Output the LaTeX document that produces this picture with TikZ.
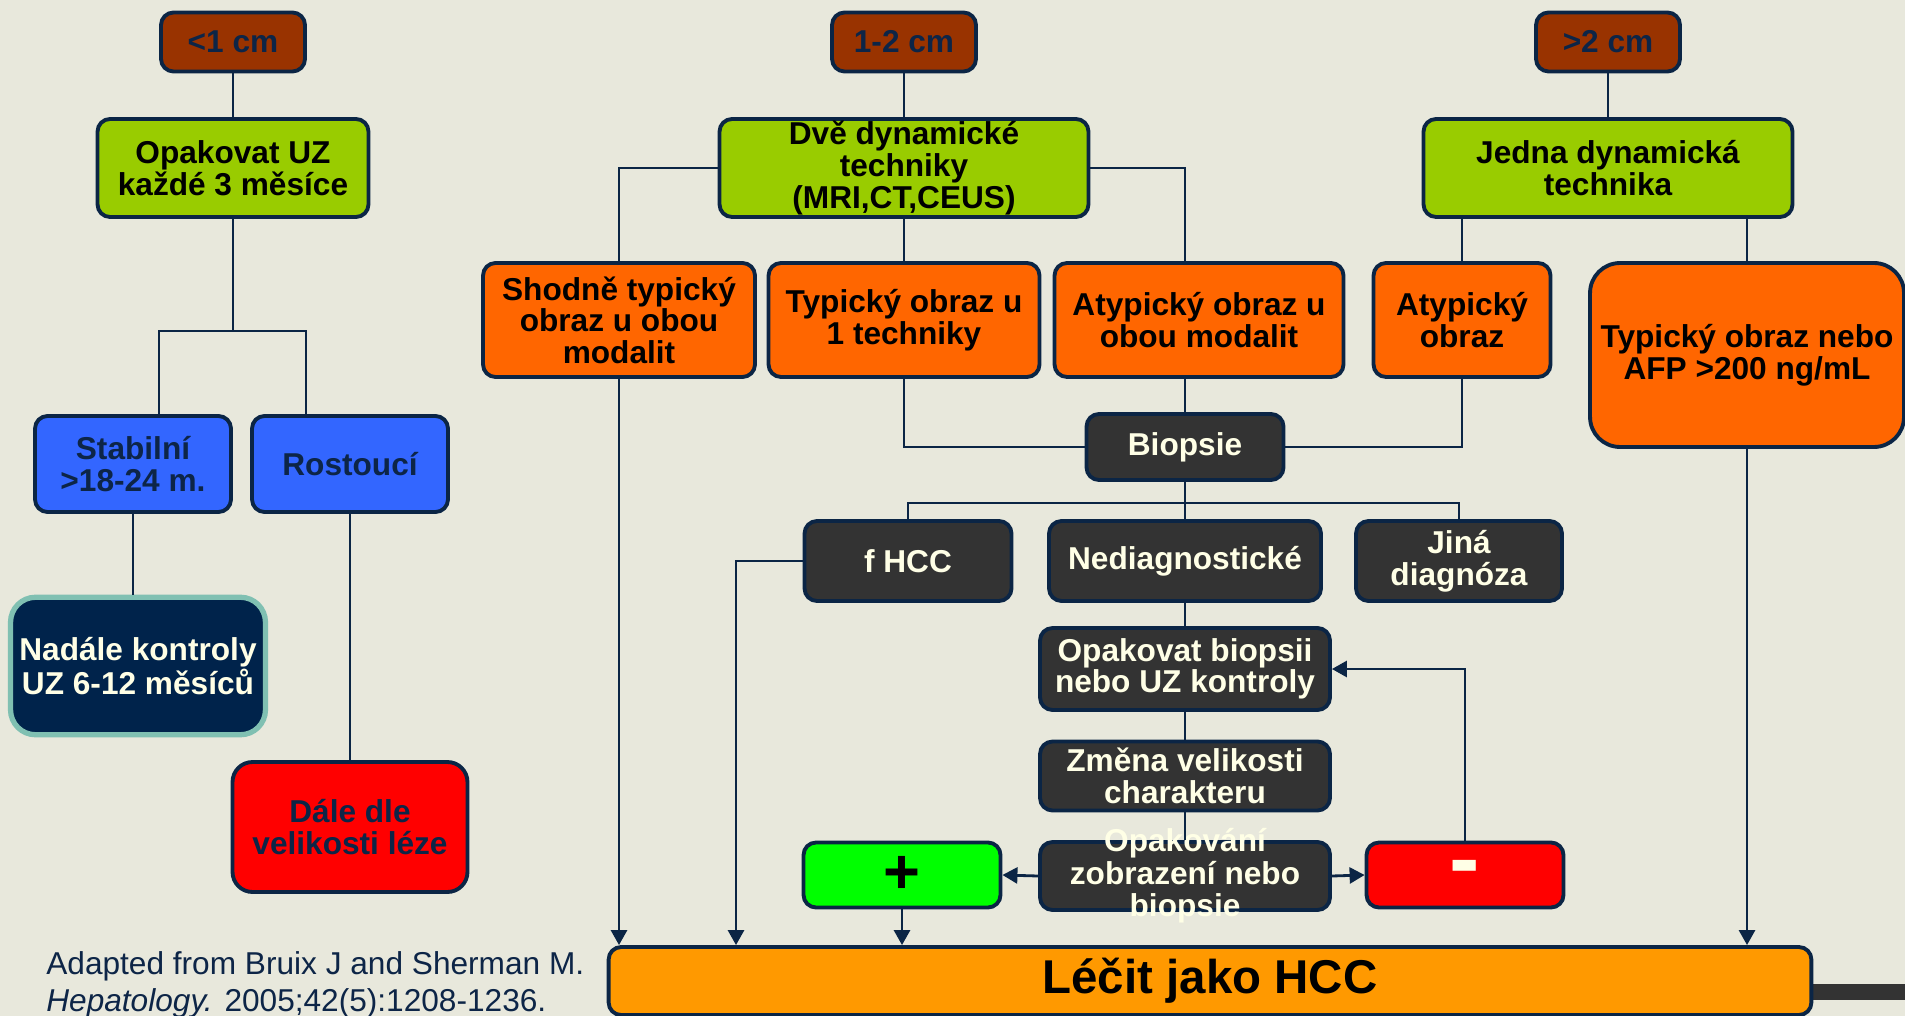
\documentclass[tikz,border=0pt]{standalone}
\usepackage{fontspec}
\setmainfont{Liberation Sans}
\usetikzlibrary{arrows.meta,calc}

\definecolor{bgpaper}{HTML}{E8E8DC}
\definecolor{edge}{HTML}{0B2545}
\definecolor{navy}{HTML}{0D2547}
\definecolor{rust}{HTML}{993300}
\definecolor{leaf}{HTML}{99CC00}
\definecolor{flame}{HTML}{FF6600}
\definecolor{royal}{HTML}{3366FF}
\definecolor{coal}{HTML}{333333}
\definecolor{cream}{HTML}{FFFFE6}
\definecolor{deepnavy}{HTML}{00234B}
\definecolor{seafoam}{HTML}{80C0B2}
\definecolor{amber}{HTML}{FF9900}
\definecolor{signalred}{HTML}{FF0000}
\definecolor{signalgreen}{HTML}{00FF00}

\begin{document}
\begin{tikzpicture}[x=0.02cm, y=-0.02cm,
  box/.style={draw=edge, line width=2.2pt, rounded corners=0.25cm, align=center,
              font=\bfseries\fontsize{18}{18}\selectfont, inner sep=2pt},
  sizebox/.style={box, fill=rust, text=navy, minimum width=2.88cm, minimum height=1.18cm},
  techbox/.style={box, fill=leaf, minimum height=1.96cm},
  findbox/.style={box, fill=flame, minimum height=2.28cm},
  bluebox/.style={box, fill=royal, text=navy, minimum width=3.92cm, minimum height=1.92cm},
  darkbox/.style={box, fill=coal, text=cream, minimum width=5.8cm},
  link/.style={draw=edge, line width=1.6pt},
  arr/.style={link, -{Triangle[length=0.3cm, width=0.32cm]}}]

  \fill[bgpaper] (0,0) rectangle (1905,1016);
  \useasboundingbox (0,0) rectangle (1905,1016);
  % strip at the right edge
  \fill[coal] (1790,984) rectangle (1905,1000);

  % lesion size
  \node[sizebox] (small) at (233,42) {<1 cm};
  \node[sizebox] (medium) at (904,42) {1-2 cm};
  \node[sizebox] (large) at (1608,42) {>2 cm};

  % imaging
  \node[techbox, minimum width=5.42cm] (repuz) at (233,168) {Opakovat UZ\\každé 3 měsíce};
  \node[techbox, minimum width=7.38cm, inner ysep=0pt] (twotech) at (904,168)
       {Dvě dynamické\\techniky\\(MRI,CT,CEUS)};
  \node[techbox, minimum width=7.38cm] (onetech) at (1608,168) {Jedna dynamická\\technika};

  \node[findbox, minimum width=5.44cm] (bothtyp) at (619,320) {Shodně typický\\obraz u obou\\modalit};
  \node[findbox, minimum width=5.42cm] (onetyp) at (904,320) {Typický obraz u\\1 techniky};
  \node[findbox, minimum width=5.78cm] (bothatyp) at (1199,320) {Atypický obraz u\\obou modalit};
  \node[findbox, minimum width=3.54cm] (atyp) at (1462,320) {Atypický\\obraz};
  \node[findbox, minimum width=6.28cm, minimum height=3.68cm, rounded corners=0.6cm] (afp)
       at (1747,355) {Typický obraz nebo\\AFP >200 ng/mL};

  % small lesion follow-up
  \node[bluebox] (stable) at (133,464) {Stabilní\\>18-24 m.};
  \node[bluebox] (growing) at (350,464) {Rostoucí};
  \node[box, fill=deepnavy, draw=seafoam, line width=3pt, text=cream, rounded corners=0.5cm,
        minimum width=5.1cm, minimum height=2.75cm] (keepuz) at (138,666)
       {Nadále kontroly\\UZ 6-12 měsíců};
  \node[box, fill=signalred, text=navy, rounded corners=0.4cm,
        minimum width=4.7cm, minimum height=2.6cm] (bysize) at (350,827)
       {Dále dle\\velikosti léze};

  % biopsy branch
  \node[darkbox, minimum width=3.94cm, minimum height=1.32cm] (biopsy) at (1185,447) {Biopsie};
  \node[darkbox, minimum width=4.14cm, minimum height=1.6cm] (fhcc) at (908,561) {f HCC};
  \node[darkbox, minimum width=5.44cm, minimum height=1.6cm] (nondiag) at (1185,561) {Nediagnostické};
  \node[darkbox, minimum width=4.12cm, minimum height=1.6cm] (otherdx) at (1459,561) {Jiná\\diagnóza};
  \node[darkbox, minimum height=1.64cm] (rebiopsy) at (1185,669) {Opakovat biopsii\\nebo UZ kontroly};
  \node[darkbox, minimum height=1.38cm] (change) at (1185,776) {Změna velikosti\\charakteru};
  \node[darkbox, minimum height=1.36cm] (reimage) at (1185,876)
       {\smash{\raisebox{-5pt}{\begin{tabular}[c]{@{}c@{}}Opakování\\zobrazení nebo\\biopsie\end{tabular}}}};
  \node[box, fill=signalgreen, minimum width=3.94cm, minimum height=1.3cm,
        font=\bfseries\fontsize{36}{36}\selectfont] (plus) at (902,875) {+};
  \node[box, fill=signalred, text=cream, minimum width=3.94cm, minimum height=1.3cm,
        font=\bfseries\fontsize{52}{52}\selectfont] (minus) at (1465,875) {-};

  \node[box, fill=amber, minimum width=24.06cm, minimum height=1.36cm,
        font=\bfseries\fontsize{27}{30}\selectfont] (treat) at (1210,981) {Léčit jako HCC};

  \node[anchor=north west, inner sep=0pt, align=left, text=navy,
        font=\fontsize{18}{21}\selectfont] (source) at (46,951)
       {Adapted from Bruix J and Sherman M.\\\textit{Hepatology.} 2005;42(5):1208-1236.};

  % connectors
  \coordinate (fork) at (233,331);
  \coordinate (split) at (1185,503);
  \coordinate (hccfall) at (736,0);

  \draw[link] (small) -- (repuz);
  \draw[link] (medium) -- (twotech);
  \draw[link] (large) -- (onetech);

  \draw[link] (repuz) -- (fork);
  \draw[link] ($(stable.north)+(26,0)$) |- (fork) -| ($(growing.north)+(-44,0)$);
  \draw[link] (stable.south) -- (stable.south |- keepuz.north);
  \draw[link] (growing) -- (bysize);

  \draw[link] (twotech.west) -| (bothtyp.north);
  \draw[link] (twotech) -- (onetyp);
  \draw[link] (twotech.east) -| (bothatyp.north -| biopsy.north);
  \draw[link] (onetech.south -| atyp.north) -- (atyp.north);
  \draw[link] (onetech.south -| afp.north) -- (afp.north);

  \draw[link] (onetyp.south) |- (biopsy.west);
  \draw[link] (atyp.south) |- (biopsy.east);
  \draw[link] (bothatyp.south -| biopsy.north) -- (biopsy);
  \draw[link] (biopsy) -- (nondiag);
  \draw[link] (fhcc.north) |- (split) -| (otherdx.north);
  \draw[link] (nondiag) -- (rebiopsy);
  \draw[link] (rebiopsy) -- (change);
  \draw[link] (change) -- (reimage);

  \draw[arr] (reimage.west) -- (plus.east);
  \draw[arr] (reimage.east) -- (minus.west);
  \draw[arr] (minus.north) |- (rebiopsy.east);

  \draw[arr] (bothtyp.south) -- (bothtyp.south |- treat.north);
  \draw[arr] (fhcc.west) -| (hccfall |- treat.north);
  \draw[arr] (plus.south) -- (plus.south |- treat.north);
  \draw[arr] (afp.south) -- (afp.south |- treat.north);
\end{tikzpicture}
\end{document}
